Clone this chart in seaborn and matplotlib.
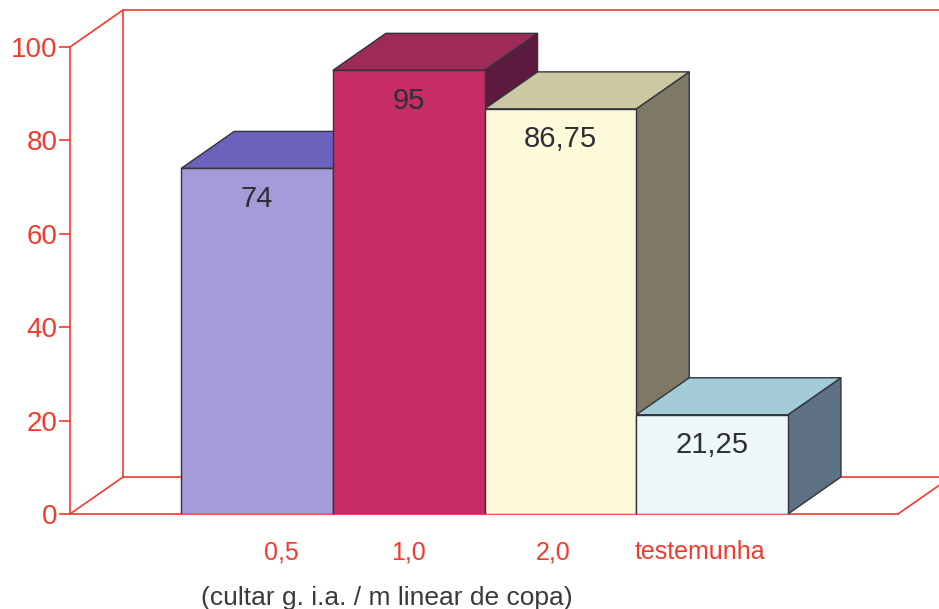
import matplotlib
matplotlib.use("Agg")
import matplotlib.pyplot as plt
from matplotlib.patches import Polygon
from matplotlib import font_manager
import seaborn as sns
import pandas as pd

# Data
categories = ["0,5", "1,0", "2,0", "testemunha"]
values = [74, 95, 86.75, 21.25]
value_labels = ["74", "95", "86,75", "21,25"]
yticks = [0, 20, 40, 60, 80, 100]
xlabel = "(cultar g. i.a. / m linear de copa)"

front_colors = ["#a39cd8", "#c62d66", "#fcfad8", "#eef7f9"]
top_colors = ["#6c62bc", "#9e2a57", "#cbc8a2", "#a3cbd8"]
side_colors = ["#4f4790", "#5c1a3e", "#7d7964", "#5f7284"]

RED = "#f23a2e"
EDGE = "#33333d"

sns.set_theme(style="white")
plt.rcParams["font.family"] = ["Liberation Sans", "DejaVu Sans"]

# Narrow face for the category labels, if available
installed = {f.name for f in font_manager.fontManager.ttflist}
narrow = "Liberation Sans Narrow" if "Liberation Sans Narrow" in installed else "Liberation Sans"

W, H = 939, 609
fig = plt.figure(figsize=(W / 100, H / 100), dpi=100)

# Axes box in pixels: front plane of the chart
left_px, right_px = 70, 898
bottom_px, top_px = 514, 47
ax = fig.add_axes([left_px / W, 1 - bottom_px / H,
                   (right_px - left_px) / W, (bottom_px - top_px) / H])

df = pd.DataFrame({"cat": categories, "val": values})
sns.barplot(data=df, x="cat", y="val", hue="cat", palette=front_colors,
            width=1.0, legend=False, ax=ax, edgecolor=EDGE, linewidth=1.0,
            saturation=1)

bar_w_px = 151.7
first_center_px = 257
x0 = -(first_center_px - left_px) / bar_w_px
x1 = (right_px - first_center_px) / bar_w_px
ax.set_xlim(x0, x1)
ax.set_ylim(0, 100)

# Depth offset (oblique projection) in data units
dx = 53 / bar_w_px
dy = 37 / ((bottom_px - top_px) / 100)

for p in ax.patches:
    p.set_zorder(3)

for i, p in enumerate(ax.patches):
    xl = p.get_x()
    xr = xl + p.get_width()
    h = p.get_height()
    side = Polygon([(xr, 0), (xr + dx, dy), (xr + dx, h + dy), (xr, h)],
                   closed=True, facecolor=side_colors[i], edgecolor=EDGE,
                   linewidth=1.0, zorder=2 + 0.1 * i, clip_on=False)
    top = Polygon([(xl, h), (xl + dx, h + dy), (xr + dx, h + dy), (xr, h)],
                  closed=True, facecolor=top_colors[i], edgecolor=EDGE,
                  linewidth=1.0, zorder=2.05 + 0.1 * i, clip_on=False)
    ax.add_patch(side)
    ax.add_patch(top)
    ax.text(xl + p.get_width() / 2, h - 6.5, value_labels[i], ha="center",
            va="center", fontsize=21, color="#2e2e36", zorder=5)

# Red frame: floor and back wall
lw = 1.2
frame = dict(color=RED, lw=lw, zorder=1, clip_on=False)
ax.plot([x0, x0 + dx], [100, 100 + dy], **frame)
ax.plot([x0, x0 + dx], [0, dy], **frame)
ax.plot([x0 + dx, x0 + dx], [dy, 100 + dy], **frame)
ax.plot([x0 + dx, x1 + 1], [100 + dy, 100 + dy], **frame)
ax.plot([x0 + dx, x1 + 1], [dy, dy], **frame)
ax.plot([x1, x1 + dx], [0, dy], **frame)

sns.despine(ax=ax, top=True, right=True)
for s in ("left", "bottom"):
    ax.spines[s].set_color(RED)
    ax.spines[s].set_linewidth(lw)
    ax.spines[s].set_zorder(1)

ax.set_yticks(yticks)
ax.set_yticklabels([str(t) for t in yticks])
ax.tick_params(axis="y", colors=RED, labelcolor=RED, labelsize=20,
               length=8, width=1.2, direction="out", pad=1, left=True)

# Category labels sit slightly off the bar centres
ax.set_xticks([0.16, 1.0, 1.95, 2.92])
ax.set_xticklabels(categories, family=[narrow, "DejaVu Sans"])
ax.tick_params(axis="x", length=0, labelsize=18, labelcolor=RED, pad=19)
ax.set_ylabel("")
ax.set_xlabel(xlabel, fontsize=19, color="#3a3a3a",
              family=[narrow, "DejaVu Sans"])
ax.xaxis.set_label_coords((387 - left_px) / (right_px - left_px), -0.155)
ax.grid(False)
ax.set_facecolor("none")

fig.savefig("out.png", dpi=100, facecolor="white")
